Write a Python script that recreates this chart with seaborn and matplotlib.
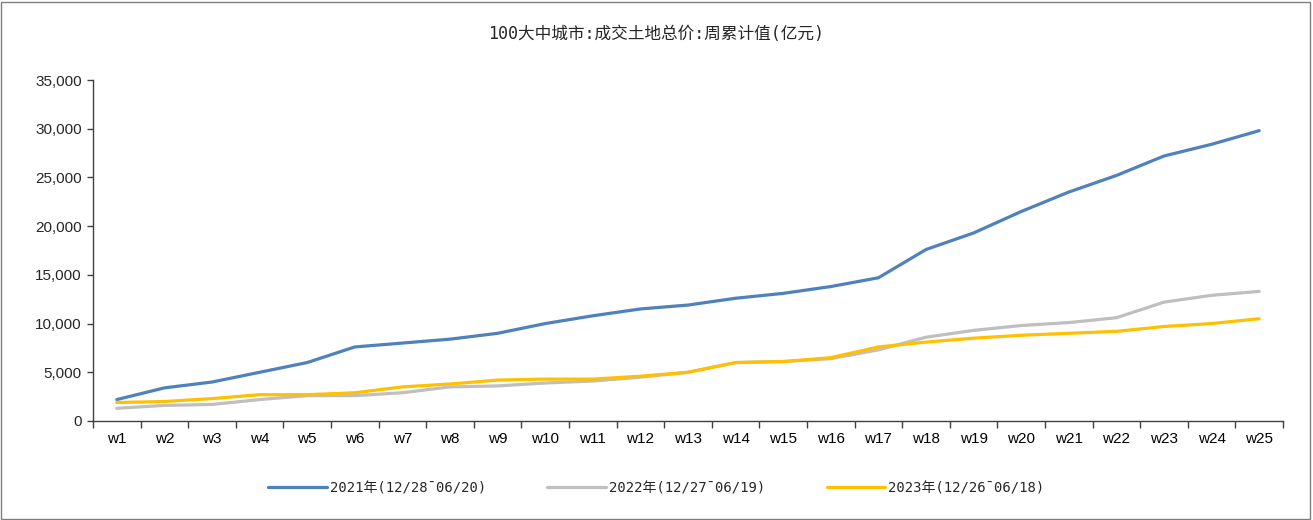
import pandas as pd
import matplotlib.pyplot as plt
import seaborn as sns
from matplotlib.patches import Rectangle

weeks = ["w%d" % i for i in range(1, 26)]
y2021 = [2200, 3400, 4000, 5000, 6000, 7600, 8000, 8400, 9000, 10000, 10800, 11500, 11900,
         12600, 13100, 13800, 14700, 17600, 19300, 21500, 23500, 25200, 27200, 28400, 29800]
y2022 = [1300, 1600, 1700, 2200, 2600, 2600, 2900, 3500, 3600, 3900, 4100, 4500, 5000,
         6000, 6100, 6400, 7300, 8600, 9300, 9800, 10100, 10600, 12200, 12900, 13300]
y2023 = [1900, 2000, 2300, 2700, 2700, 2900, 3500, 3800, 4200, 4300, 4300, 4600, 5000,
         6000, 6100, 6500, 7600, 8100, 8500, 8800, 9000, 9200, 9700, 10000, 10500]
labels = ["2021年(12/28¯06/20)", "2022年(12/27¯06/19)", "2023年(12/26¯06/18)"]
colors = ["#4F81BD", "#BFBFBF", "#FFC000"]
title = "100大中城市:成交土地总价:周累计值(亿元)"

df = pd.concat([
    pd.DataFrame({"week": weeks, "value": vals, "series": lab})
    for vals, lab in zip([y2021, y2022, y2023], labels)
])
df["x"] = df.groupby("series").cumcount()

sns.set_theme(style="white")
plt.rcParams["font.family"] = ["Liberation Sans", "Noto Sans CJK SC", "DejaVu Sans"]
mono_cjk = ["DejaVu Sans Mono", "Noto Sans CJK SC"]

fig = plt.figure(figsize=(13.13, 5.2), dpi=100)
ax = fig.add_axes([93 / 1313, 1 - 421 / 520, (1283 - 93) / 1313, (421 - 80) / 520])

sns.lineplot(data=df, x="x", y="value", hue="series", palette=colors,
             linewidth=2.3, ax=ax, legend=False, sort=False)

ax.set_xlim(-0.5, 24.5)
ax.set_ylim(0, 35000)
ax.set_xticks(range(25))
ax.set_xticklabels(weeks)
ax.set_xticks([i + 0.5 for i in range(-1, 25)], minor=True)
ax.set_yticks(range(0, 35001, 5000))
ax.set_yticklabels(["{:,}".format(v) for v in range(0, 35001, 5000)])
ax.tick_params(axis="x", which="major", length=0, labelsize=11, pad=8, colors="#000000")
ax.tick_params(axis="x", which="minor", length=5, width=1, color="#404040", direction="out", bottom=True)
ax.tick_params(axis="y", length=4, width=1, color="#404040", direction="out", left=True, labelsize=11, pad=4)
ax.set_xlabel("")
ax.set_ylabel("")
for s in ["top", "right"]:
    ax.spines[s].set_visible(False)
for s in ["left", "bottom"]:
    ax.spines[s].set_color("#404040")
    ax.spines[s].set_linewidth(1)

fig.text(0.5, 1 - 34 / 520, title, ha="center", va="center", fontsize=12, family=mono_cjk)

handles = [plt.Line2D([], [], color=c, linewidth=2.3) for c in colors]
leg = fig.legend(handles, labels, loc="center", bbox_to_anchor=(0.5, 1 - 488 / 520), ncol=3,
                 frameon=False, handlelength=4.2, columnspacing=4.4, handletextpad=0.25,
                 prop={"family": mono_cjk, "size": 10})

fig.patches.append(Rectangle((0.001, 0.002), 0.997, 0.995, transform=fig.transFigure,
                             fill=False, edgecolor="#7F7F7F", linewidth=1))

fig.savefig("out.png", dpi=100)
